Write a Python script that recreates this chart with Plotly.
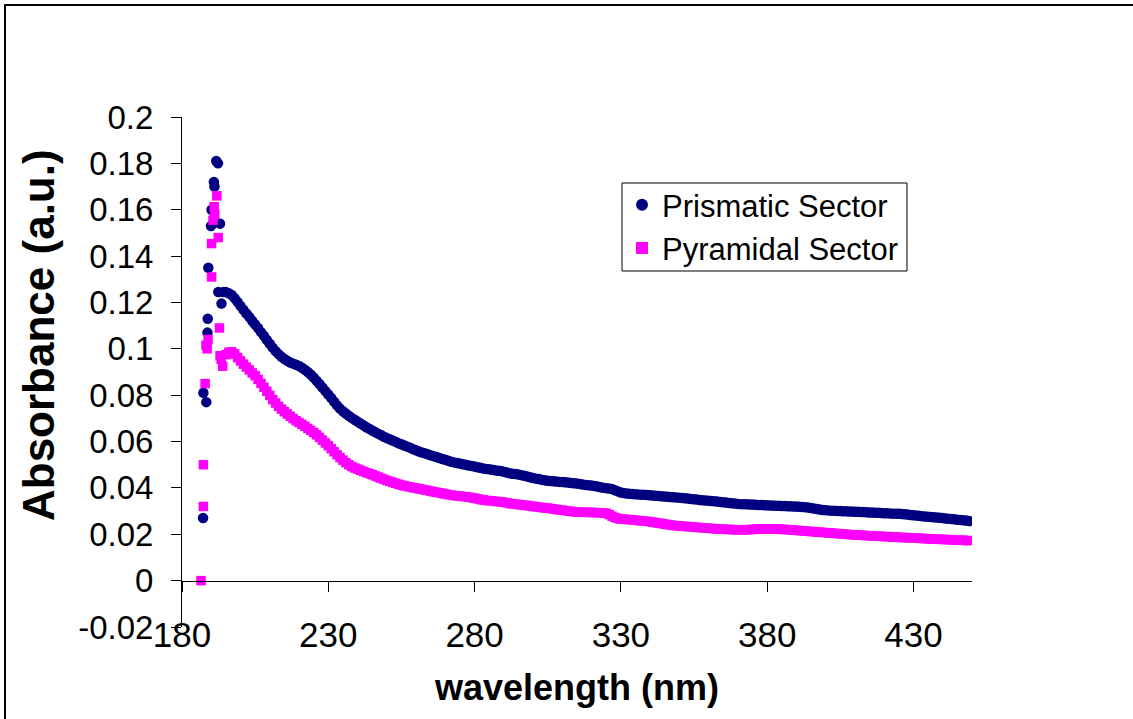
import plotly.graph_objects as go

# ---- data ----
prism_peak_x = [187.2, 187.3, 188.3, 188.7, 188.8, 189.0, 189.9, 190.1, 190.9, 191.1,
                191.7, 192.3, 192.4, 193.0, 193.5, 194.2]
prism_peak_y = [0.027, 0.081, 0.077, 0.107, 0.113, 0.135, 0.153, 0.160, 0.172, 0.170,
                0.181, 0.180, 0.1245, 0.154, 0.1195, 0.1245]

pyram_peak_x = [186.5, 187.3, 187.3, 187.9, 188.2, 188.6, 188.9, 190.1, 190.1, 190.6,
                191.0, 191.2, 191.9, 192.4, 192.8, 193.0, 193.4, 193.9]
pyram_peak_y = [0.000, 0.032, 0.050, 0.085, 0.1015, 0.100, 0.104, 0.131, 0.1454, 0.1555,
                0.1613, 0.158, 0.166, 0.148, 0.109, 0.097, 0.0955, 0.0925]

tail_nm = list(range(195, 450))

prism_tail = [
    0.1245, 0.1240, 0.1232, 0.1218, 0.1202, 0.1185, 0.1168, 0.1152, 0.1137, 0.1120,
    0.1105, 0.1090, 0.1072, 0.1056, 0.1038, 0.1022, 0.1005, 0.0990, 0.0977, 0.0966,
    0.0956, 0.0948, 0.0941, 0.0936, 0.0931, 0.0926, 0.0918, 0.0910, 0.0900, 0.0889,
    0.0876, 0.0862, 0.0848, 0.0833, 0.0818, 0.0803, 0.0788, 0.0772, 0.0756, 0.0742,
    0.0731, 0.0721, 0.0711, 0.0702, 0.0694, 0.0686, 0.0678, 0.0670, 0.0662, 0.0655,
    0.0648, 0.0641, 0.0634, 0.0628, 0.0621, 0.0615, 0.0610, 0.0604, 0.0599, 0.0593,
    0.0588, 0.0583, 0.0578, 0.0573, 0.0567, 0.0562, 0.0557, 0.0553, 0.0549, 0.0545,
    0.0541, 0.0537, 0.0533, 0.0529, 0.0525, 0.0521, 0.0517, 0.0513, 0.0510, 0.0507,
    0.0505, 0.0502, 0.0500, 0.0497, 0.0495, 0.0492, 0.0489, 0.0487, 0.0484, 0.0482,
    0.0480, 0.0478, 0.0476, 0.0474, 0.0473, 0.0470, 0.0466, 0.0463, 0.0461, 0.0460,
    0.0458, 0.0455, 0.0452, 0.0449, 0.0446, 0.0443, 0.0440, 0.0438, 0.0435, 0.0433,
    0.0431, 0.0430, 0.0429, 0.0428, 0.0426, 0.0425, 0.0424, 0.0423, 0.0421, 0.0420,
    0.0419, 0.0417, 0.0415, 0.0413, 0.0411, 0.0410, 0.0408, 0.0406, 0.0403, 0.0401,
    0.0399, 0.0397, 0.0395, 0.0390, 0.0385, 0.0380, 0.0378, 0.0376, 0.0375, 0.0374,
    0.0373, 0.0372, 0.0371, 0.0370, 0.0369, 0.0368, 0.0367, 0.0366, 0.0365, 0.0364,
    0.0363, 0.0362, 0.0361, 0.0360, 0.0359, 0.0358, 0.0356, 0.0355, 0.0354, 0.0352,
    0.0351, 0.0350, 0.0348, 0.0347, 0.0346, 0.0345, 0.0343, 0.0342, 0.0341, 0.0339,
    0.0338, 0.0337, 0.0335, 0.0334, 0.0333, 0.0331, 0.0330, 0.0330, 0.0329, 0.0328,
    0.0328, 0.0327, 0.0326, 0.0326, 0.0325, 0.0325, 0.0324, 0.0324, 0.0323, 0.0323,
    0.0322, 0.0322, 0.0321, 0.0321, 0.0320, 0.0320, 0.0319, 0.0318, 0.0317, 0.0315,
    0.0313, 0.0311, 0.0309, 0.0307, 0.0305, 0.0304, 0.0303, 0.0302, 0.0301, 0.0300,
    0.0300, 0.0299, 0.0299, 0.0298, 0.0298, 0.0297, 0.0297, 0.0296, 0.0296, 0.0295,
    0.0294, 0.0294, 0.0293, 0.0293, 0.0292, 0.0291, 0.0291, 0.0290, 0.0289, 0.0289,
    0.0288, 0.0287, 0.0286, 0.0285, 0.0283, 0.0282, 0.0281, 0.0280, 0.0278, 0.0277,
    0.0276, 0.0274, 0.0273, 0.0272, 0.0271, 0.0270, 0.0268, 0.0267, 0.0266, 0.0265,
    0.0263, 0.0262, 0.0260, 0.0259, 0.0257,
]

pyram_tail = [
    0.0975, 0.0985, 0.0987, 0.0978, 0.0962, 0.0948, 0.0934, 0.0921, 0.0909, 0.0896,
    0.0884, 0.0868, 0.0851, 0.0834, 0.0817, 0.0799, 0.0781, 0.0766, 0.0752, 0.0740,
    0.0729, 0.0719, 0.0709, 0.0699, 0.0690, 0.0682, 0.0674, 0.0666, 0.0657, 0.0648,
    0.0639, 0.0629, 0.0618, 0.0606, 0.0594, 0.0582, 0.0569, 0.0556, 0.0543, 0.0531,
    0.0520, 0.0509, 0.0500, 0.0492, 0.0486, 0.0481, 0.0476, 0.0471, 0.0466, 0.0462,
    0.0457, 0.0452, 0.0447, 0.0442, 0.0437, 0.0432, 0.0428, 0.0424, 0.0420, 0.0416,
    0.0412, 0.0409, 0.0406, 0.0404, 0.0401, 0.0399, 0.0396, 0.0394, 0.0391, 0.0389,
    0.0386, 0.0383, 0.0381, 0.0379, 0.0376, 0.0374, 0.0371, 0.0369, 0.0367, 0.0366,
    0.0365, 0.0363, 0.0362, 0.0360, 0.0358, 0.0356, 0.0353, 0.0350, 0.0348, 0.0346,
    0.0345, 0.0344, 0.0342, 0.0341, 0.0340, 0.0338, 0.0336, 0.0333, 0.0331, 0.0330,
    0.0328, 0.0327, 0.0325, 0.0324, 0.0322, 0.0320, 0.0319, 0.0317, 0.0315, 0.0314,
    0.0313, 0.0311, 0.0309, 0.0307, 0.0305, 0.0304, 0.0302, 0.0300, 0.0299, 0.0297,
    0.0296, 0.0295, 0.0295, 0.0295, 0.0294, 0.0294, 0.0294, 0.0293, 0.0293, 0.0292,
    0.0291, 0.0285, 0.0278, 0.0272, 0.0268, 0.0266, 0.0265, 0.0264, 0.0263, 0.0262,
    0.0261, 0.0259, 0.0258, 0.0257, 0.0256, 0.0254, 0.0252, 0.0250, 0.0248, 0.0246,
    0.0244, 0.0242, 0.0240, 0.0238, 0.0237, 0.0236, 0.0235, 0.0234, 0.0233, 0.0232,
    0.0231, 0.0230, 0.0229, 0.0228, 0.0227, 0.0226, 0.0225, 0.0224, 0.0223, 0.0222,
    0.0222, 0.0221, 0.0221, 0.0220, 0.0220, 0.0219, 0.0219, 0.0219, 0.0220, 0.0220,
    0.0221, 0.0222, 0.0222, 0.0223, 0.0223, 0.0223, 0.0223, 0.0223, 0.0222, 0.0222,
    0.0221, 0.0221, 0.0220, 0.0219, 0.0218, 0.0217, 0.0216, 0.0215, 0.0214, 0.0213,
    0.0212, 0.0211, 0.0210, 0.0209, 0.0208, 0.0207, 0.0206, 0.0205, 0.0204, 0.0203,
    0.0202, 0.0201, 0.0200, 0.0199, 0.0198, 0.0197, 0.0197, 0.0196, 0.0195, 0.0194,
    0.0194, 0.0193, 0.0192, 0.0192, 0.0191, 0.0190, 0.0190, 0.0189, 0.0188, 0.0188,
    0.0187, 0.0186, 0.0186, 0.0185, 0.0185, 0.0184, 0.0183, 0.0183, 0.0182, 0.0181,
    0.0181, 0.0180, 0.0179, 0.0179, 0.0178, 0.0178, 0.0177, 0.0177, 0.0176, 0.0175,
    0.0175, 0.0174, 0.0174, 0.0173, 0.0173,
]

y_tickvals = [-0.02, 0, 0.02, 0.04, 0.06, 0.08, 0.1, 0.12, 0.14, 0.16, 0.18, 0.2]
y_ticktext = ["-0.02", "0", "0.02", "0.04", "0.06", "0.08", "0.1", "0.12", "0.14",
              "0.16", "0.18", "0.2"]
x_tickvals = [180, 230, 280, 330, 380, 430]

FONT = "Arial, Liberation Sans, sans-serif"

# plot-area pixel frame used to place decorations in paper coordinates
L, R, T, B = 182, 972, 117, 627
def px(xp):
    return (xp - L) / (R - L)
def py(yp):
    return (B - yp) / (B - T)

fig = go.Figure()
fig.add_trace(go.Scatter(
    x=prism_peak_x + tail_nm, y=prism_peak_y + prism_tail,
    mode="markers", name="Prismatic Sector",
    marker=dict(symbol="circle", size=10.5, color="#000080", line=dict(width=0)),
))
fig.add_trace(go.Scatter(
    x=pyram_peak_x + tail_nm, y=pyram_peak_y + pyram_tail,
    mode="markers", name="Pyramidal Sector",
    marker=dict(symbol="square", size=9.5, color="#FF00FF", line=dict(width=0)),
))

zero_pos = 0.02 / 0.22

fig.update_layout(
    width=1133, height=719,
    margin=dict(l=L, r=1133 - R, t=T, b=719 - B),
    paper_bgcolor="white", plot_bgcolor="white",
    font=dict(family=FONT, color="black"),
    showlegend=True,
    legend=dict(
        x=px(622), y=py(178), xanchor="left", yanchor="top",
        borderwidth=0, bgcolor="rgba(0,0,0,0)",
        font=dict(size=31, family=FONT), tracegroupgap=0,
        itemsizing="constant",
    ),
    xaxis=dict(
        range=[180, 450], tickvals=x_tickvals, ticktext=[str(v) for v in x_tickvals],
        anchor="free", position=zero_pos,
        showline=True, linecolor="black", linewidth=1,
        ticks="outside", ticklen=10, tickwidth=1, tickcolor="black",
        showgrid=False, zeroline=False,
        tickfont=dict(size=35, family=FONT), ticklabelstandoff=13,
        title=dict(text="<b>wavelength (nm)</b>", font=dict(size=36, family=FONT), standoff=22),
    ),
    yaxis=dict(
        range=[-0.02, 0.2], tickvals=y_tickvals, ticktext=y_ticktext,
        domain=[0, 1],
        showline=True, linecolor="black", linewidth=1,
        ticks="outside", ticklen=10, tickwidth=1, tickcolor="black",
        showgrid=False, zeroline=False,
        tickfont=dict(size=33, family=FONT), ticklabelstandoff=11,
    ),
    annotations=[dict(
        text="<b>Absorbance (a.u.)</b>", textangle=-90,
        xref="paper", yref="paper", x=px(38), y=py(335),
        xanchor="center", yanchor="middle", showarrow=False,
        font=dict(size=44, family=FONT, color="black"),
    )],
    shapes=[
        dict(type="rect", xref="paper", yref="paper",
             x0=px(5), x1=1.5, y0=-0.5, y1=py(5),
             line=dict(color="black", width=2), fillcolor="rgba(0,0,0,0)", layer="below"),
        dict(type="rect", xref="paper", yref="paper",
             x0=px(622), x1=px(907), y0=py(271), y1=py(183),
             line=dict(color="black", width=1), fillcolor="white", layer="above"),
    ],
)

fig.write_html("out.html")
